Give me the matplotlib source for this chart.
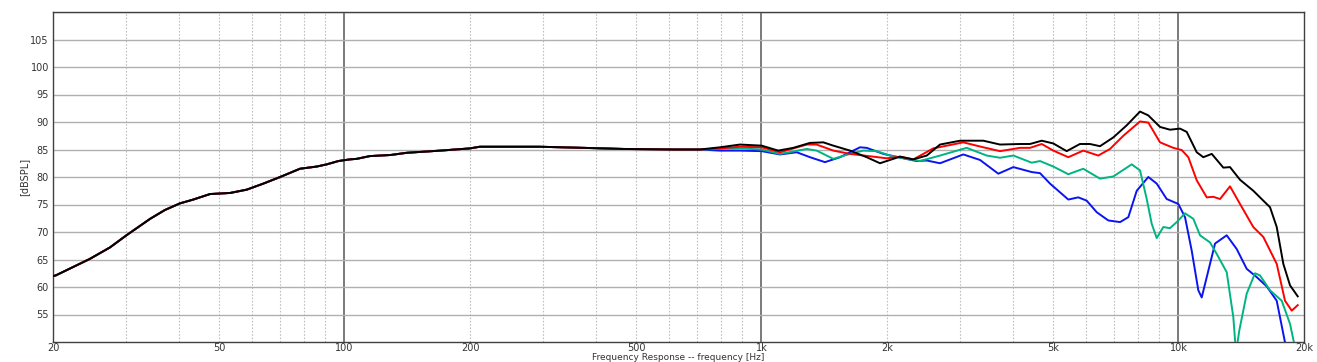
import numpy as np
import matplotlib
matplotlib.use("Agg")
import matplotlib.pyplot as plt

# ---- data (frequency in Hz, level in dB SPL) ----
low_f = [20, 20.3, 24.5, 27.4, 30.0, 34.2, 37.1, 40.3, 43.4, 47.6, 53.2, 58.3, 63.9, 70.1,
         78.2, 85.8, 90.7, 96.7, 103, 107, 115, 129, 141, 170, 200, 211, 294, 374, 466, 614, 712]
low_db = [62.0, 62.1, 65.1, 67.2, 69.4, 72.4, 74.0, 75.2, 75.9, 76.9, 77.1, 77.7, 78.8, 80.0,
          81.5, 81.9, 82.3, 82.9, 83.2, 83.3, 83.8, 84.0, 84.4, 84.8, 85.2, 85.5, 85.5, 85.3, 85.1, 85.0, 85.0]

black_f = [795, 888, 1001, 1097, 1192, 1307, 1407, 1487, 1630, 1788, 1924, 2014, 2149, 2313, 2491,
           2680, 2994, 3404, 3733, 4168, 4405, 4700, 5010, 5394, 5804, 6134, 6484, 6979, 7515,
           8088, 8466, 9031, 9543, 10085, 10466, 11060, 11470, 12018, 12812, 13292, 14046, 15116,
           15976, 16580, 17204, 17844, 18514, 19320]
black_db = [85.4, 85.9, 85.7, 84.8, 85.3, 86.2, 86.3, 85.7, 84.8, 83.6, 82.5, 83.0, 83.7, 83.2, 83.9,
            85.9, 86.6, 86.6, 85.9, 86.0, 86.0, 86.6, 86.1, 84.7, 86.0, 86.0, 85.6, 87.2, 89.4,
            91.9, 91.2, 89.1, 88.6, 88.8, 88.2, 84.5, 83.6, 84.2, 81.7, 81.8, 79.5, 77.5,
            75.7, 74.5, 70.9, 64.2, 60.3, 58.3]

red_f = [795, 888, 1001, 1108, 1284, 1356, 1487, 1630, 1854, 1997, 2149, 2313, 2582, 3048, 3404,
         3733, 4168, 4405, 4700, 5010, 5443, 5911, 6422, 6852, 7376, 8088, 8466, 9031, 9720,
         10181, 10559, 11060, 11690, 12122, 12580, 13292, 14046, 15116, 15976, 17204, 18010,
         18688, 19320]
red_db = [85.2, 85.5, 85.4, 84.5, 85.9, 85.9, 84.8, 84.2, 83.7, 83.4, 83.7, 83.2, 85.2, 86.3, 85.4,
          84.7, 85.3, 85.3, 86.0, 84.8, 83.6, 84.8, 83.9, 85.1, 87.5, 90.1, 89.9, 86.3, 85.3,
          84.9, 83.6, 79.4, 76.3, 76.4, 76.0, 78.3, 75.1, 70.9, 69.1, 64.2, 57.5,
          55.7, 56.7]

green_f = [795, 888, 1001, 1108, 1284, 1356, 1487, 1630, 1755, 1889, 2033, 2229, 2400, 2680, 3106,
           3468, 3733, 4018, 4447, 4656, 5010, 5443, 5911, 6484, 6979, 7725, 8088, 8392, 8626,
           8868, 9197, 9543, 9904, 10368, 10854, 11264, 11904, 12354, 13052, 13538, 13740, 13992,
           14576, 15260, 15688, 16580, 17686, 18514, 19032]
green_db = [85.1, 85.2, 85.0, 84.2, 85.1, 84.8, 83.3, 84.2, 84.8, 84.7, 83.9, 83.3, 82.9, 83.9, 85.3,
            83.9, 83.5, 83.9, 82.6, 82.9, 81.9, 80.5, 81.5, 79.7, 80.1, 82.3, 81.2, 76.0, 71.5,
            68.9, 70.9, 70.7, 71.8, 73.4, 72.4, 69.4, 68.1, 66.0, 62.7, 54.5, 48.0, 52.1,
            58.8, 62.5, 62.1, 59.4, 57.5, 53.3, 49.0]

blue_f = [795, 888, 1001, 1108, 1215, 1307, 1420, 1543, 1723, 1788, 1960, 2188, 2356, 2491, 2680,
          3048, 3342, 3698, 4018, 4447, 4656, 4920, 5443, 5751, 6024, 6367, 6788, 7244, 7582,
          7942, 8466, 8868, 9370, 9992, 10368, 10759, 11158, 11370, 11690, 12238, 13052, 13794,
          14576, 15404, 16280, 17204, 18110]
blue_db = [84.8, 84.8, 84.7, 84.1, 84.5, 83.6, 82.7, 83.6, 85.4, 85.3, 84.2, 83.4, 82.9, 83.0, 82.5,
           84.1, 83.1, 80.6, 81.8, 80.9, 80.7, 78.8, 75.9, 76.3, 75.7, 73.6, 72.1, 71.8, 72.7,
           77.5, 80.0, 78.8, 76.0, 75.1, 72.7, 66.6, 59.4, 58.1, 61.8, 67.9, 69.4, 66.9,
           63.3, 61.8, 60.1, 57.5, 49.0]

xtick_vals = [20, 50, 100, 200, 500, 1000, 2000, 5000, 10000, 20000]
xtick_labels = ["20", "50", "100", "200", "500", "1k", "2k", "5k", "10k", "20k"]
ytick_vals = [55, 60, 65, 70, 75, 80, 85, 90, 95, 100, 105]

series = [
    (blue_f, blue_db, "#0a14f0"),
    (green_f, green_db, "#00b482"),
    (red_f, red_db, "#ff0000"),
    (black_f, black_db, "#000000"),
]

fig = plt.figure(figsize=(13.17, 3.62), dpi=100)
ax = fig.add_axes([53 / 1317, 1 - 342 / 362, (1304 - 53) / 1317, (342 - 12) / 362])
ax.set_xscale("log")
ax.set_xlim(20, 20000)
ax.set_ylim(50, 110)

# grid
for d in [10, 100, 1000, 10000]:
    for m in range(2, 10):
        v = d * m
        if 20 < v < 20000:
            ax.axvline(v, color="#c0c0c0", lw=0.8, ls=(0, (1.5, 1.5)), zorder=1)
for v in [100, 1000, 10000]:
    ax.axvline(v, color="#707070", lw=1.3, zorder=1)
for v in ytick_vals + [110]:
    ax.axhline(v, color="#b0b0b0", lw=1.0, zorder=1)

for f, db, c in series:
    ax.plot(list(low_f) + list(f), list(low_db) + list(db), color=c, lw=1.4, zorder=3,
            solid_joinstyle="round")

ax.set_xticks(xtick_vals)
ax.set_xticklabels(xtick_labels)
ax.xaxis.set_minor_locator(matplotlib.ticker.NullLocator())
ax.set_yticks(ytick_vals)
ax.set_yticklabels([str(v) for v in ytick_vals])
ax.tick_params(axis="both", length=0, labelsize=7, colors="#333333", pad=3)
ax.tick_params(axis="x", pad=1)

for s in ax.spines.values():
    s.set_color("#404040")
    s.set_linewidth(1.0)

ax.set_ylabel("[dBSPL]", fontsize=7, color="#333333")
ax.yaxis.set_label_coords((29 - 53) / 1251, 0.5)
fig.text(678.5 / 1317, 2.2 / 362, "Frequency Response -- frequency [Hz]", fontsize=6.5,
         color="#333333", ha="center", va="baseline")

fig.savefig("out.png", dpi=100)
